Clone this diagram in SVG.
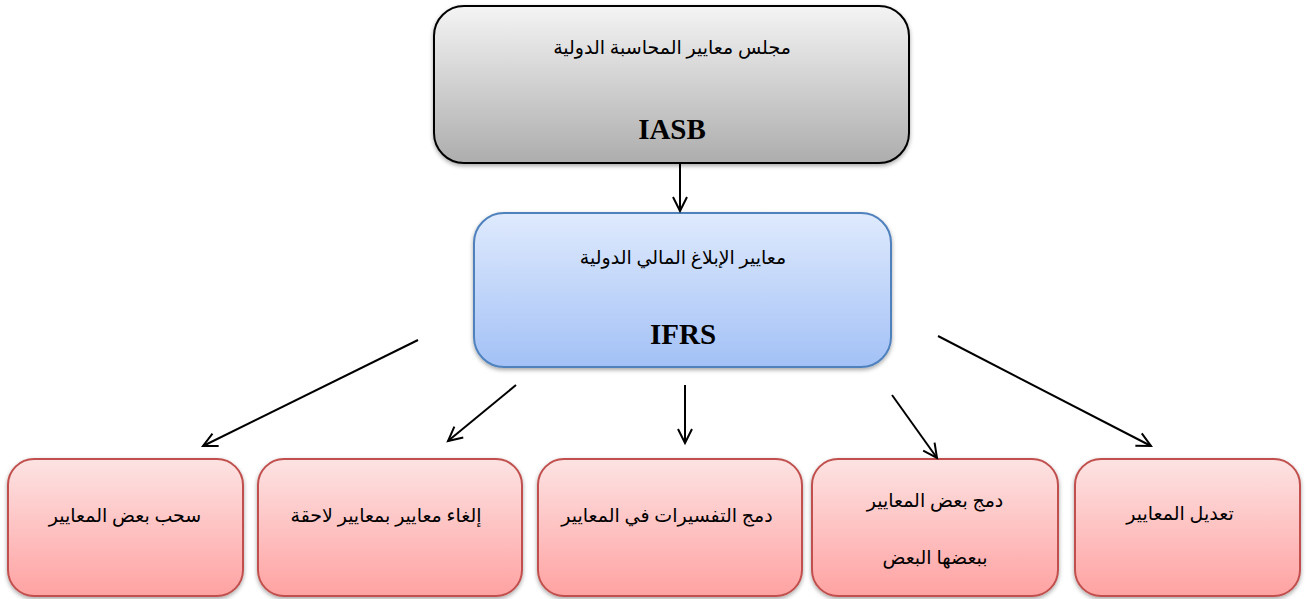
<svg xmlns="http://www.w3.org/2000/svg" width="1306" height="599" viewBox="0 0 1306 599">
<style>
.ar{font-family:"Liberation Serif","DejaVu Serif","DejaVu Sans",serif;font-size:19px;fill:#000;text-anchor:middle;direction:rtl}
.en{font-family:"Liberation Serif",serif;font-size:29px;font-weight:bold;fill:#000;text-anchor:middle}
.edge{stroke:#000;stroke-width:2;fill:none;marker-end:url(#ah)}
.red{fill:url(#gr);stroke:#c0504d;stroke-width:2;filter:url(#sh)}
</style>
<defs>
<linearGradient id="gg" x1="0" y1="0" x2="0" y2="1"><stop offset="0" stop-color="#f4f4f4"/><stop offset="1" stop-color="#adadad"/></linearGradient>
<linearGradient id="gb" x1="0" y1="0" x2="0" y2="1"><stop offset="0" stop-color="#dfeafd"/><stop offset="1" stop-color="#a3c1f6"/></linearGradient>
<linearGradient id="gr" x1="0" y1="0" x2="0" y2="1"><stop offset="0" stop-color="#fde3e3"/><stop offset="1" stop-color="#ffa2a2"/></linearGradient>
<filter id="sh" x="-10%" y="-10%" width="120%" height="125%"><feDropShadow dx="0" dy="2" stdDeviation="2" flood-color="#000" flood-opacity="0.35"/></filter>
<marker id="ah" markerWidth="20" markerHeight="20" refX="15" refY="8" orient="auto" markerUnits="userSpaceOnUse" viewBox="0 0 20 16"><path d="M1,1 L15,8 L1,15" fill="none" stroke="#000" stroke-width="2"/></marker>
</defs>
<g id="n-iasb">
<rect x="434" y="6" width="475" height="157" rx="30" fill="url(#gg)" stroke="#000" stroke-width="2" filter="url(#sh)"/>
<text class="ar" x="672" y="54">مجلس معايير المحاسبة الدولية</text>
<text class="en" x="672" y="139">IASB</text>
</g>
<g id="n-ifrs">
<rect x="474" y="213" width="417" height="154" rx="30" fill="url(#gb)" stroke="#4f81bd" stroke-width="2" filter="url(#sh)"/>
<text class="ar" x="683" y="264">معايير الإبلاغ المالي الدولية</text>
<text class="en" x="683" y="344">IFRS</text>
</g>
<g id="n-withdraw">
<rect class="red" x="8" y="459" width="235" height="137" rx="26"/>
<text class="ar" x="125" y="522">سحب بعض المعايير</text>
</g>
<g id="n-cancel">
<rect class="red" x="258" y="459" width="264" height="137" rx="26"/>
<text class="ar" x="386" y="522">إلغاء معايير بمعايير لاحقة</text>
</g>
<g id="n-interp">
<rect class="red" x="538" y="459" width="264" height="137" rx="26"/>
<text class="ar" x="667" y="522">دمج التفسيرات في المعايير</text>
</g>
<g id="n-merge">
<rect class="red" x="812" y="459" width="246" height="137" rx="26"/>
<text class="ar" x="935" y="507">دمج بعض  المعايير</text>
<text class="ar" x="935" y="564">ببعضها البعض</text>
</g>
<g id="n-amend">
<rect class="red" x="1075" y="459" width="225" height="137" rx="26"/>
<text class="ar" x="1180" y="520">تعديل المعايير</text>
</g>
<g id="connectors">
<line class="edge" x1="680" y1="164" x2="680" y2="211"/>
<line class="edge" x1="418" y1="340" x2="203" y2="446"/>
<line class="edge" x1="516" y1="385" x2="448" y2="441"/>
<line class="edge" x1="685" y1="385" x2="685" y2="443"/>
<line class="edge" x1="892" y1="395" x2="937" y2="458"/>
<line class="edge" x1="938" y1="336" x2="1151" y2="446"/>
</g>
</svg>
